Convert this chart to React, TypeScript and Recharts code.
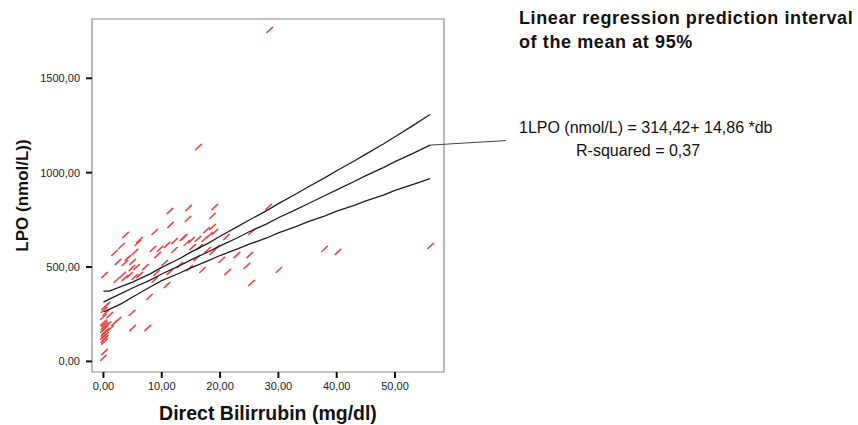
import React from 'react';
import { ScatterChart, Scatter, XAxis, YAxis, ReferenceArea, ReferenceLine } from 'recharts';

// observed samples: direct bilirubin (mg/dl) vs LPO (nmol/L)
const POINT_X = [
  11.4, 14.6, 19.1, 18.7, 14.5, 11.5, 3.8, 6.2, 8.8, 3.1, 5.9, 8.5, 9.7, 10.9, 12.2, 12.2, 13.9, 14.3, 15.1, 16.2,
  17.7, 18.7, 18.2, 17.4, 19.1, 15.3, 16.5, 17.9, 19.4, 18.7, 1.9, 2.5, 4.2, 3.7, 5.0, 4.9, 5.7, 3.3, 3.7, 4.5,
  2.3, 0.2, 5.4, 6.2, 9.1, 8.8, 10.5, 11.4, 10.9, 13.1, 14.8, 17.0, 21.1, 22.9, 20.3, 25.1, 24.6, 21.3, 25.4, 28.3,
  25.4, 30.1, 7.9, 0.2, 0.0, 1.1, 2.5, 1.9, 4.9, 5.0, 7.6, 0.2, 0.0, 28.5, 16.3, 37.9, 40.2, 56.1, 7.2, 5.4,
  9.3, 0.6, 0.1, 0.4, 16.0, 13.6, 0.0, 0.2, 0.4, 0.1, 0.3, 0.0, 0.5, 0.2, 0.1, 0.4, 0.0, 0.3, 0.1, 0.2, 0.8, 1.2,
];
const POINT_Y = [
  797, 813, 818, 771, 755, 723, 670, 643, 686, 612, 628, 596, 596, 617, 638, 591, 659, 628, 643, 649,
  696, 712, 670, 649, 686, 606, 606, 591, 601, 580, 575, 527, 548, 522, 527, 495, 500, 458, 442, 458,
  432, 458, 448, 458, 469, 432, 522, 474, 405, 511, 495, 485, 659, 564, 538, 564, 506, 474, 416, 818,
  686, 485, 342, 289, 236, 246, 220, 204, 257, 177, 177, 50, 19, 1756, 1136, 596, 580, 612, 500, 580,
  564, 299, 273, 257, 548, 654, 205, 198, 190, 183, 176, 168, 162, 155, 148, 140, 132, 124, 115, 105, 196, 175,
];

// fitted line and 95% interval of the mean
const LINE_X = [0, 1, 3, 5, 8, 10, 13, 15, 18, 20, 23, 25, 28, 30, 33, 35, 38, 40, 43, 45, 48, 50, 53, 56];
const FIT_Y = [314, 330, 359, 389, 431, 463, 506, 538, 581, 612, 655, 687, 729, 761, 804, 834, 879, 909, 953, 984, 1027, 1058, 1101, 1146];
const UPPER_Y = [372, 372, 396, 420, 464, 498, 544, 579, 627, 663, 714, 749, 799, 836, 887, 923, 974, 1010, 1062, 1098, 1152, 1190, 1248, 1308];
const LOWER_Y = [262, 276, 305, 341, 394, 428, 467, 496, 534, 561, 596, 621, 654, 681, 714, 739, 771, 796, 827, 851, 881, 906, 937, 968];

const X_TICKS = [0, 10, 20, 30, 40, 50];
const Y_TICKS = [0, 500, 1000, 1500];
const X_DOMAIN = [-1.96, 58.4];
const Y_DOMAIN = [-56, 1814];

const points = POINT_X.map((x, i) => ({ x, y: POINT_Y[i] }));
const fit = LINE_X.map((x, i) => ({ x, y: FIT_Y[i] }));
const upper = LINE_X.map((x, i) => ({ x, y: UPPER_Y[i] }));
const lower = LINE_X.map((x, i) => ({ x, y: LOWER_Y[i] }));

const fmt = (v: number) => v.toFixed(2).replace('.', ',');

const Slash = (props: any) => {
  const { cx, cy } = props;
  return (
    <line x1={cx - 2.8} y1={cy + 2.6} x2={cx + 2.8} y2={cy - 2.6} stroke="#e8474a" strokeWidth={1.6} strokeLinecap="round" />
  );
};

const NoDot = () => <g />;

const lineStyle = { stroke: '#1e1e1e', strokeWidth: 1.3 };
const tickStyle = { fontSize: 11, fill: '#222', fontFamily: 'Liberation Sans, Arial, sans-serif' };

export default function App() {
  return (
    <div style={{ position: 'absolute', left: 0, top: 0, width: 858, height: 425, background: '#fff', fontFamily: 'Liberation Sans, Arial, sans-serif' }}>
      <ScatterChart width={858} height={425} margin={{ top: 19, right: 414, bottom: 0, left: 22 }}>
        <XAxis
          type="number"
          dataKey="x"
          domain={X_DOMAIN}
          ticks={X_TICKS}
          tickFormatter={fmt}
          allowDataOverflow
          height={53}
          axisLine={false}
          tickLine={{ stroke: '#111', strokeWidth: 2 }}
          tickSize={6}
          tickMargin={4}
          tick={tickStyle}
          label={{ value: 'Direct Bilirrubin (mg/dl)', position: 'insideBottom', offset: 5, style: { fontSize: 19.5, fontWeight: 'bold', fill: '#111' } }}
        />
        <YAxis
          type="number"
          dataKey="y"
          domain={Y_DOMAIN}
          ticks={Y_TICKS}
          tickFormatter={fmt}
          allowDataOverflow
          width={70}
          axisLine={false}
          tickLine={{ stroke: '#111', strokeWidth: 2 }}
          tickSize={6}
          tickMargin={6}
          tick={tickStyle}
          label={{ value: 'LPO (nmol/L))', angle: -90, position: 'insideLeft', offset: 0, style: { fontSize: 17, fontWeight: 'bold', fill: '#111', textAnchor: 'middle' } }}
        />
        <ReferenceArea x1={X_DOMAIN[0]} x2={X_DOMAIN[1]} y1={Y_DOMAIN[0]} y2={Y_DOMAIN[1]} fill="#fff" fillOpacity={0} stroke="#8a8a8a" strokeWidth={1.2} />
        <Scatter data={points} shape={Slash} isAnimationActive={false} />
        <Scatter data={upper} line={lineStyle} lineType="joint" shape={NoDot} isAnimationActive={false} />
        <Scatter data={fit} line={lineStyle} lineType="joint" shape={NoDot} isAnimationActive={false} />
        <Scatter data={lower} line={lineStyle} lineType="joint" shape={NoDot} isAnimationActive={false} />
        <ReferenceLine
          segment={[{ x: LINE_X[LINE_X.length - 1], y: FIT_Y[FIT_Y.length - 1] }, { x: 69, y: 1170 }]}
          ifOverflow="visible"
          stroke="#444"
          strokeWidth={1}
        />
      </ScatterChart>
      <div style={{ position: 'absolute', left: 519, top: 6, fontSize: 18, fontWeight: 'bold', lineHeight: '24px', letterSpacing: '0.6px', color: '#111', whiteSpace: 'nowrap' }}>
        Linear regression prediction interval<br />of the mean at 95%
      </div>
      <div style={{ position: 'absolute', left: 519, top: 118, fontSize: 16, lineHeight: '20px', color: '#111', whiteSpace: 'nowrap' }}>
        1LPO (nmol/L) = 314,42+ 14,86 *db
      </div>
      <div style={{ position: 'absolute', left: 576, top: 141, fontSize: 16, lineHeight: '20px', color: '#111', whiteSpace: 'nowrap' }}>
        R-squared = 0,37
      </div>
    </div>
  );
}
